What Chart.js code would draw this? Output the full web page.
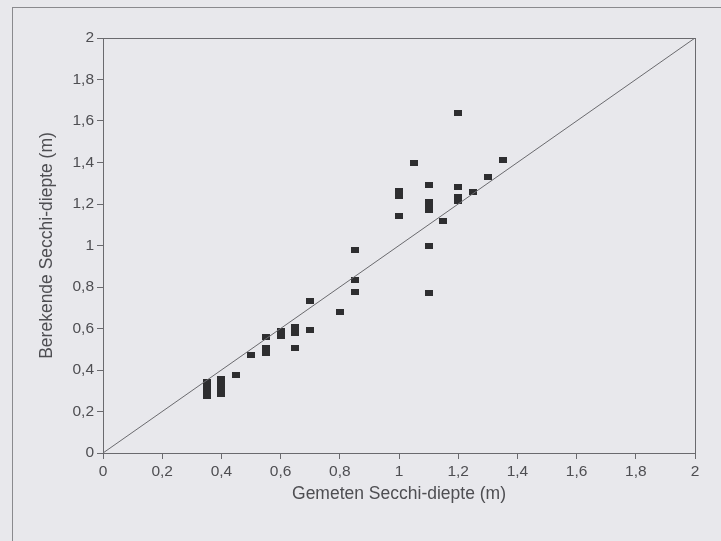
<!DOCTYPE html>
<html>
<head>
<meta charset="utf-8">
<script src="https://cdn.jsdelivr.net/npm/chart.js@4/dist/chart.umd.min.js"></script>
<style>
  html, body { margin: 0; padding: 0; background: #e8e8ec; }
  #wrap { position: relative; width: 721px; height: 541px; }
  #frame { position: absolute; left: 12px; top: 7px; right: 0; bottom: 0;
           border-left: 1px solid #8a8a8e; border-top: 1px solid #8a8a8e; }
  canvas { position: absolute; left: 0; top: 0; }
</style>
</head>
<body>
<div id="wrap">
  <div id="frame"></div>
  <canvas id="chart" width="721" height="541"></canvas>
</div>
<script>
// Gemeten (measured) vs berekende (computed) Secchi depth, in m
const measured = [
  0.35, 0.35, 0.35, 0.35,
  0.40, 0.40, 0.40, 0.40,
  0.45, 0.50,
  0.55, 0.55, 0.55,
  0.60, 0.60,
  0.65, 0.65, 0.65,
  0.70, 0.70,
  0.80,
  0.85, 0.85, 0.85,
  1.00, 1.00, 1.00,
  1.05,
  1.10, 1.10, 1.10, 1.10, 1.10, 1.10,
  1.15,
  1.20, 1.20, 1.20, 1.20,
  1.25, 1.30, 1.35
];
const computed = [
  0.275, 0.30, 0.325, 0.34,
  0.285, 0.31, 0.335, 0.355,
  0.376, 0.472,
  0.48, 0.505, 0.558,
  0.565, 0.59,
  0.507, 0.58, 0.605,
  0.593, 0.734,
  0.68,
  0.777, 0.834, 0.98,
  1.14, 1.24, 1.265,
  1.40,
  0.77, 1.00, 1.17, 1.19, 1.21, 1.29,
  1.12,
  1.215, 1.235, 1.28, 1.64,
  1.26, 1.33, 1.41
];
const lineX = [0, 2];
const lineY = [0, 2];
const tickValues = [0, 0.2, 0.4, 0.6, 0.8, 1, 1.2, 1.4, 1.6, 1.8, 2];

// small dark rectangle used as marker
const marker = document.createElement('canvas');
marker.width = 8;
marker.height = 6;
const mctx = marker.getContext('2d');
mctx.fillStyle = '#2e2e30';
mctx.fillRect(0, 0, 8, 6);

function fmt(v) {
  return String(Math.round(v * 10) / 10).replace('.', ',');
}

// draws the box around the plot area
const boxPlugin = {
  id: 'box',
  afterDatasetsDraw(chart) {
    const a = chart.chartArea;
    const ctx = chart.ctx;
    ctx.save();
    ctx.strokeStyle = '#6a6a6e';
    ctx.lineWidth = 1;
    ctx.strokeRect(Math.round(a.left) + 0.5, Math.round(a.top) + 0.5,
                   Math.round(a.right - a.left), Math.round(a.bottom - a.top));
    ctx.restore();
  }
};

const tickFont = { family: 'Liberation Sans, Arial, sans-serif', size: 15.5 };
const titleFont = { family: 'Liberation Sans, Arial, sans-serif', size: 17.5 };

new Chart(document.getElementById('chart'), {
  type: 'scatter',
  data: {
    datasets: [
      {
        type: 'line',
        data: lineX.map((x, i) => ({ x: x, y: lineY[i] })),
        borderColor: '#6a6a6e',
        borderWidth: 1,
        pointRadius: 0,
        fill: false
      },
      {
        data: measured.map((x, i) => ({ x: x, y: computed[i] })),
        pointStyle: marker,
        pointRadius: 4,
        pointHoverRadius: 4,
        backgroundColor: '#2e2e30',
        borderColor: '#2e2e30'
      }
    ]
  },
  plugins: [boxPlugin],
  options: {
    responsive: false,
    animation: false,
    events: [],
    layout: { padding: { top: 38, right: 26, bottom: 36, left: 0 } },
    plugins: { legend: { display: false }, tooltip: { enabled: false } },
    scales: {
      x: {
        type: 'linear',
        min: 0, max: 2,
        afterBuildTicks: (s) => { s.ticks = tickValues.map(v => ({ value: v })); },
        border: { color: '#6a6a6e', width: 1 },
        grid: { drawOnChartArea: false, drawTicks: true, tickLength: 6, color: '#6a6a6e' },
        ticks: { color: '#4e4e52', font: tickFont, padding: 3, maxRotation: 0, callback: (v) => fmt(v) },
        title: { display: true, text: 'Gemeten Secchi-diepte (m)', color: '#4e4e52', font: titleFont, padding: { top: 2, bottom: 0 } },
        afterFit: (s) => { s.height = 52; }
      },
      y: {
        type: 'linear',
        min: 0, max: 2,
        afterBuildTicks: (s) => { s.ticks = tickValues.map(v => ({ value: v })); },
        border: { color: '#6a6a6e', width: 1 },
        grid: { drawOnChartArea: false, drawTicks: true, tickLength: 6, color: '#6a6a6e' },
        ticks: { color: '#4e4e52', font: tickFont, padding: 3, callback: (v) => fmt(v) },
        title: { display: true, text: 'Berekende Secchi-diepte (m)', color: '#4e4e52', font: titleFont, padding: { top: 37, bottom: 0 } },
        afterFit: (s) => { s.width = 103; }
      }
    }
  }
});
</script>
</body>
</html>
